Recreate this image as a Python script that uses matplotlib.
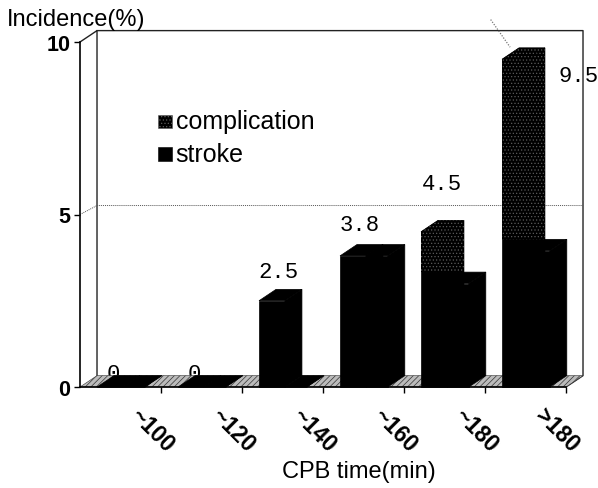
import matplotlib
matplotlib.use('Agg')
import matplotlib.pyplot as plt
from matplotlib.patches import Polygon
from matplotlib.transforms import ScaledTranslation

# values
categories = ['~100', '~120', '~140', '~160', '~180', '>180']
complication = [0, 0, 2.5, 3.8, 4.5, 9.5]
stroke = [0, 0, 0, 3.8, 3.0, 3.95]
value_labels = ['0', '0', '2.5', '3.8', '4.5', '9.5']
label_dx = [0.41, 0.41, 0.45, 0.45, 0.47, 1.15]
label_dy = [0.1, 0.1, 0.22, 0.27, 0.77, -1.1]
y_ticks = [0, 5, 10]

# fake 3d depth, in data units
DX = 0.21
DY = 0.33
BAR_START = 0.21
COMP_W = 0.32
STROKE_W = 0.27
W, H = 598, 489
MONO = 'Liberation Mono'
SANS = 'Liberation Sans'

plt.rcParams['hatch.linewidth'] = 0.5
fig = plt.figure(figsize=(W / 100, H / 100), dpi=100)
ax = fig.add_axes([80 / W, 1 - 388 / H, 486 / W, 345 / H])
ax.set_xlim(0, 6)
ax.set_ylim(0, 10)
ax.patch.set_visible(False)
for s in ['top', 'right']:
    ax.spines[s].set_visible(False)
ax.spines['left'].set_linewidth(1.2)
ax.spines['bottom'].set_visible(False)


def poly(pts, z, ec='black', hatch=None, lw=0.5, fc='black'):
    p = Polygon(pts, closed=True, facecolor=fc, edgecolor=ec, hatch=hatch,
                linewidth=lw, zorder=z, clip_on=False)
    ax.add_patch(p)
    return p


def bar3d(x, w, h, z, speckle_from=None):
    # side, top and front faces
    poly([(x + w, 0), (x + w + DX, DY), (x + w + DX, h + DY), (x + w, h)], z)
    poly([(x, h), (x + DX, h + DY), (x + w + DX, h + DY), (x + w, h)], z)
    poly([(x, 0), (x + w, 0), (x + w, h), (x, h)], z)
    if speckle_from is not None:
        # the scan only shows the speckle on the part above the stroke bar
        grey = dict(ec='#5a5a5a', hatch='.....', lw=0)
        poly([(x, h), (x + DX, h + DY), (x + w + DX, h + DY), (x + w, h)], z, **grey)
        poly([(x, speckle_from), (x + w + DX, speckle_from), (x + w + DX, h + DY),
              (x + w, h), (x, h)], z, **grey)


# walls
wall = dict(color='#222222', lw=1.0, zorder=1, clip_on=False)
ax.plot([0, DX, DX], [10, 10 + DY, DY], **wall)
ax.plot([DX, 6 + DX, 6 + DX, 6], [10 + DY, 10 + DY, DY, 0], **wall)
ax.plot([0, DX, 6 + DX], [5, 5 + DY - 0.07, 5 + DY - 0.07], color='#555555', lw=0.7, ls=(0, (1, 1)),
        zorder=1, clip_on=False)

# scan streak above the tallest bar
ax.plot([5.07, 5.31], [10.65, 9.85], color='#777777', lw=0.9, ls=(0, (1, 1.2)),
        zorder=1, clip_on=False)

# zero labels sit behind the floor, the rest are above the bars
for i, txt in enumerate(value_labels):
    ax.text(i + label_dx[i], complication[i] + label_dy[i] + (0.0 if i < 2 else DY), txt,
            family=MONO, fontsize=16, ha='center', va='bottom', zorder=1.5 if i < 2 else 20)

# floor
poly([(0, 0), (DX, DY), (6 + DX, DY), (6, 0)], 2, '#333333', '//////', 0.4, '#bbbbbb')

# bars
for i in range(len(categories)):
    x = i + BAR_START
    above = complication[i] - stroke[i] > 0.5 and stroke[i] > 0
    bar3d(x, COMP_W, complication[i], 3 + i, stroke[i] + DY if above else None)
    bar3d(x + COMP_W, STROKE_W, stroke[i], 3.5 + i)

# axis ticks
ax.set_yticks(y_ticks)
ax.set_yticklabels([str(v) for v in y_ticks], family=SANS, fontweight='bold', fontsize=15.5)
ax.tick_params(axis='y', length=4, width=1.0, pad=3)
ax.set_xticks(range(1, len(categories) + 1))
ax.set_xticklabels(categories, family=SANS, fontweight='bold', fontsize=16.5,
                   rotation=-45, ha='center', va='top', rotation_mode='default')
ax.tick_params(axis='x', length=4, width=1.0, pad=8)
shift = ScaledTranslation(-9 / 100, 0, fig.dpi_scale_trans)
for lab in ax.get_xticklabels():
    lab.set_transform(lab.get_transform() + shift)
ax.plot([0, 6], [0, 0], color='black', lw=1.2, zorder=2.5, clip_on=False)

# legend, placed by hand like the original
legend_names = ['complication', 'stroke']
legend_ec = ['#5a5a5a', 'black']
legend_hatch = ['.....', None]
for name, ec, hatch, y in zip(legend_names, legend_ec, legend_hatch, [0.77, 0.675]):
    ax.scatter([0.175], [y], transform=ax.transAxes, marker='s', s=95, facecolor='black', edgecolor=ec,
               hatch=hatch, linewidth=0.4, zorder=5, clip_on=False)
    ax.text(0.197, y, name, transform=ax.transAxes, family=SANS, fontsize=18,
            va='center', ha='left')

# axis titles
fig.text(7 / W, 1 - 20 / H, 'Incidence(%)', family=SANS, fontsize=17, ha='left', va='center')
fig.text(359 / W, 1 - 472 / H, 'CPB time(min)', family=SANS, fontsize=17, ha='center', va='center')

fig.savefig('out.png', dpi=100)
